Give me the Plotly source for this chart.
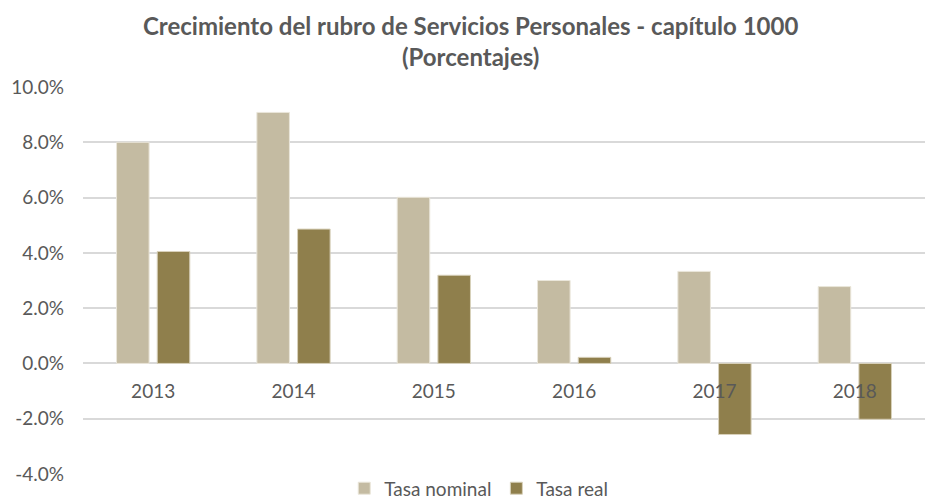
import plotly.graph_objects as go

years = ["2013", "2014", "2015", "2016", "2017", "2018"]
tasa_nominal = [8.0, 9.08, 6.01, 3.0, 3.33, 2.78]
tasa_real = [4.05, 4.86, 3.19, 0.22, -2.57, -2.02]
y_ticks = [-4, -2, 0, 2, 4, 6, 8, 10]
y_tick_labels = [f"{v:.1f}%" for v in y_ticks]

ymin, ymax = -4, 10
font_family = "Lato, 'Open Sans', sans-serif"
gray = "#595959"

fig = go.Figure()
fig.add_trace(go.Bar(x=years, y=tasa_nominal, name="Tasa nominal",
                     marker=dict(color="#C4BBA2", line=dict(color="#EAE6DA", width=1))))
fig.add_trace(go.Bar(x=years, y=tasa_real, name="Tasa real",
                     marker=dict(color="#8F7F4C", line=dict(color="#D8D1BB", width=1))))

fig.add_annotation(
    text="<b>Crecimiento del rubro de Servicios Personales - capítulo 1000<br>(Porcentajes)</b>",
    xref="paper", yref="paper", x=0.46, y=1.2, xanchor="center", yanchor="top",
    showarrow=False, align="center", borderpad=0,
    font=dict(size=24, color=gray, family=font_family))

fig.update_layout(
    width=926, height=494,
    margin=dict(l=75, r=9, t=79, b=28, autoexpand=False),
    paper_bgcolor="white", plot_bgcolor="white",
    font=dict(family=font_family, color=gray, size=15),
    barmode="group", bargap=0.42, bargroupgap=0.2,
    showlegend=True,
    legend=dict(orientation="h", x=0.47, xanchor="center", y=0.012, yanchor="top",
                font=dict(size=19, color=gray), itemwidth=30, traceorder="normal",
                bgcolor="rgba(0,0,0,0)"),
    xaxis=dict(anchor="free", position=(0 - ymin) / (ymax - ymin), showgrid=False,
               showline=False, ticks="", tickfont=dict(size=19, color=gray),
               ticklabelstandoff=15),
    yaxis=dict(range=[ymin, ymax], tickvals=y_ticks, ticktext=y_tick_labels,
               showgrid=True, gridcolor="#D9D9D9", gridwidth=1.5, zeroline=True,
               zerolinecolor="#D9D9D9", zerolinewidth=1.5, showline=False,
               tickfont=dict(size=19, color=gray), ticklabelstandoff=18),
)

fig.write_html("out.html")
